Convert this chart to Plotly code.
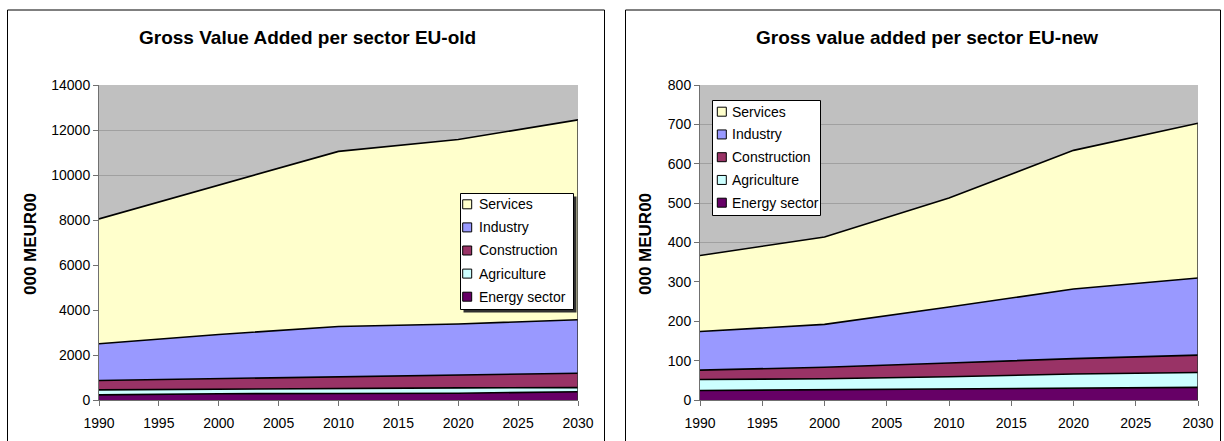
import plotly.graph_objects as go

W, H = 1224, 441

# Time axis shared by both panels
years = [1990, 2000, 2010, 2020, 2030]
x_ticks = [1990, 1995, 2000, 2005, 2010, 2015, 2020, 2025, 2030]

# Sector order from the bottom of the stack upwards
sectors = ["Energy sector", "Agriculture", "Construction", "Industry", "Services"]
sector_colors = ["#660066", "#CCFFFF", "#993366", "#9999FF", "#FFFFCC"]

# Gross value added, EU-old (000 MEUR00)
old_energy = [230, 280, 290, 300, 370]
old_agriculture = [220, 210, 230, 240, 180]
old_construction = [420, 460, 540, 590, 640]
old_industry = [1630, 1960, 2210, 2250, 2380]
old_services = [5550, 6650, 7780, 8200, 8880]

# Gross value added, EU-new (000 MEUR00)
new_energy = [24, 26, 27, 29, 32]
new_agriculture = [28, 28, 32, 37, 38]
new_construction = [24, 29, 35, 39, 44]
new_industry = [98, 109, 142, 177, 196]
new_services = [193, 222, 277, 352, 393]

old_series = [old_energy, old_agriculture, old_construction, old_industry, old_services]
new_series = [new_energy, new_agriculture, new_construction, new_industry, new_services]

FONT = "Liberation Sans, Arial, sans-serif"


def px(x):
    return x / W


def py(y):
    return 1 - y / H


fig = go.Figure()


def add_panel(series, xa, ya, group):
    for name, vals, col in zip(sectors, series, sector_colors):
        fig.add_trace(go.Scatter(
            x=years, y=vals, name=name, mode="lines", stackgroup=group,
            fillcolor=col, line=dict(color="black", width=1.6),
            xaxis=xa, yaxis=ya, showlegend=False, hoverinfo="skip",
        ))
    # closing edge of the stack at the last year
    total_last = sum(v[-1] for v in series)
    fig.add_trace(go.Scatter(
        x=[years[-1], years[-1]], y=[0, total_last], mode="lines",
        line=dict(color="#333333", width=1.5), xaxis=xa, yaxis=ya,
        showlegend=False, hoverinfo="skip",
    ))


add_panel(old_series, "x", "y", "old")
add_panel(new_series, "x2", "y2", "new")

y_dom = [py(400), py(85)]
axis_common = dict(
    showline=True, linecolor="#707070", linewidth=1,
    ticks="outside", ticklen=5, tickcolor="#707070",
    tickfont=dict(family=FONT, size=14, color="black"),
    zeroline=False, automargin=False,
)

fig.update_layout(
    width=W, height=H, autosize=False,
    margin=dict(l=0, r=0, t=0, b=0, pad=0, autoexpand=False),
    paper_bgcolor="white",
    plot_bgcolor="#C0C0C0",
    showlegend=False,
    xaxis=dict(domain=[px(99), px(578)], range=[1990, 2030], tickvals=x_ticks,
               showgrid=False, anchor="y", ticklabelstandoff=5, **axis_common),
    yaxis=dict(domain=y_dom, range=[0, 14000], dtick=2000, tickformat="d", showgrid=True,
               gridcolor="#A0A0A0", gridwidth=1, anchor="x", **axis_common),
    xaxis2=dict(domain=[px(700), px(1198)], range=[1990, 2030], tickvals=x_ticks,
                showgrid=False, anchor="y2", ticklabelstandoff=5, **axis_common),
    yaxis2=dict(domain=y_dom, range=[0, 800], dtick=100, tickformat="d", showgrid=True,
                gridcolor="#A0A0A0", gridwidth=1, anchor="x2", **axis_common),
)

shapes = []
annotations = []

# chart frames
for x0, x1 in [(7.5, 604.5), (625.5, 1220.5)]:
    shapes.append(dict(type="rect", xref="paper", yref="paper",
                       x0=px(x0), x1=px(x1), y0=py(460), y1=py(10),
                       line=dict(color="black", width=1), fillcolor="rgba(0,0,0,0)",
                       layer="below"))

# titles
for xc, text in [(307, "Gross Value Added per sector EU-old"),
                 (927, "Gross value added per sector EU-new")]:
    annotations.append(dict(text=f"<b>{text}</b>", xref="paper", yref="paper",
                            x=px(xc), y=py(37.5), xanchor="center", yanchor="middle",
                            showarrow=False, font=dict(family=FONT, size=19, color="black")))

# y-axis titles
for xc in [30, 645]:
    annotations.append(dict(text="<b>000 MEUR00</b>", xref="paper", yref="paper",
                            x=px(xc), y=py(244), xanchor="center", yanchor="middle",
                            textangle=-90, showarrow=False,
                            font=dict(family=FONT, size=17, color="black")))


def add_legend(box, first_row, spacing, sq_x, text_x, shadow):
    bx0, by0, bx1, by1 = box
    if shadow:
        shapes.append(dict(type="rect", xref="paper", yref="paper",
                           x0=px(bx0 + 3), x1=px(bx1 + 3), y0=py(by1 + 3), y1=py(by0 + 3),
                           line=dict(width=0), fillcolor="#303030", layer="above"))
    shapes.append(dict(type="rect", xref="paper", yref="paper",
                       x0=px(bx0), x1=px(bx1), y0=py(by1), y1=py(by0),
                       line=dict(color="black", width=1), fillcolor="white", layer="above"))
    order = list(zip(sectors, sector_colors))[::-1]
    for i, (name, col) in enumerate(order):
        yc = first_row + i * spacing
        shapes.append(dict(type="rect", xref="paper", yref="paper",
                           x0=px(sq_x), x1=px(sq_x + 9), y0=py(yc + 4.5), y1=py(yc - 4.5),
                           line=dict(color="black", width=1), fillcolor=col, layer="above"))
        annotations.append(dict(text=name, xref="paper", yref="paper",
                                x=px(text_x), y=py(yc), xanchor="left", yanchor="middle",
                                showarrow=False, font=dict(family=FONT, size=14, color="black")))


add_legend((460.5, 193.5, 573.5, 309.5), 204.3, 23.1, 462.7, 476.5, True)
add_legend((712.5, 100.5, 820.5, 215.5), 111.7, 22.75, 717.3, 730, False)

fig.update_layout(shapes=shapes, annotations=annotations)

# page body without default margins so the figure sits at the window origin
page_css = (
    "document.body.style.margin='0';"
    "document.body.style.padding='0';"
    "document.documentElement.style.overflow='hidden';"
)

fig.write_html("out.html", post_script=page_css)
